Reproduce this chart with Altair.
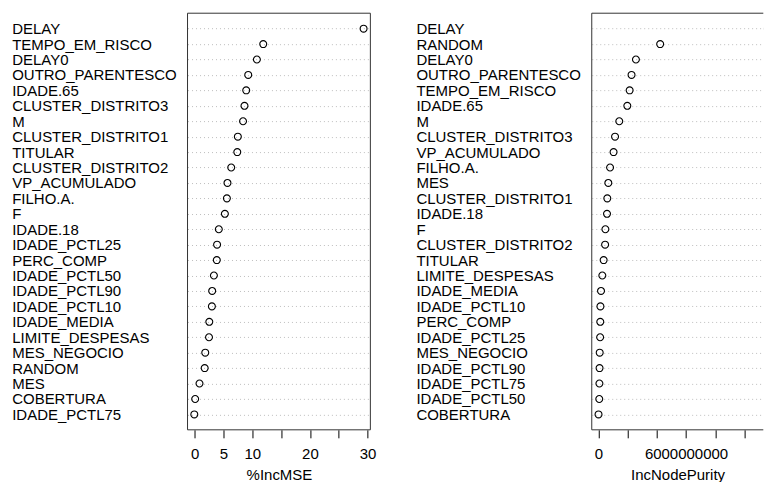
import altair as alt
import pandas as pd

# %IncMSE importance, in plotted order (top to bottom)
mse_vars = [
    "DELAY", "TEMPO_EM_RISCO", "DELAY0", "OUTRO_PARENTESCO", "IDADE.65",
    "CLUSTER_DISTRITO3", "M", "CLUSTER_DISTRITO1", "TITULAR", "CLUSTER_DISTRITO2",
    "VP_ACUMULADO", "FILHO.A.", "F", "IDADE.18", "IDADE_PCTL25", "PERC_COMP",
    "IDADE_PCTL50", "IDADE_PCTL90", "IDADE_PCTL10", "IDADE_MEDIA",
    "LIMITE_DESPESAS", "MES_NEGOCIO", "RANDOM", "MES", "COBERTURA", "IDADE_PCTL75",
]
mse_vals = [
    29.3, 11.9, 10.8, 9.3, 8.95, 8.65, 8.4, 7.5, 7.4, 6.35, 5.7, 5.6, 5.25,
    4.2, 3.9, 3.85, 3.35, 3.05, 3.0, 2.55, 2.5, 1.85, 1.75, 0.85, 0.1, -0.05,
]
mse_ticks = [0, 5, 10, 15, 20, 25, 30]
mse_labelled = [0, 5, 10, 20, 30]

# IncNodePurity importance, in plotted order (top to bottom)
purity_vars = [
    "DELAY", "RANDOM", "DELAY0", "OUTRO_PARENTESCO", "TEMPO_EM_RISCO", "IDADE.65",
    "M", "CLUSTER_DISTRITO3", "VP_ACUMULADO", "FILHO.A.", "MES", "CLUSTER_DISTRITO1",
    "IDADE.18", "F", "CLUSTER_DISTRITO2", "TITULAR", "LIMITE_DESPESAS", "IDADE_MEDIA",
    "IDADE_PCTL10", "PERC_COMP", "IDADE_PCTL25", "MES_NEGOCIO", "IDADE_PCTL90",
    "IDADE_PCTL75", "IDADE_PCTL50", "COBERTURA",
]
purity_vals = [
    11.6e9, 4.23e9, 2.57e9, 2.27e9, 2.14e9, 1.98e9, 1.43e9, 1.14e9, 1.04e9,
    0.80e9, 0.68e9, 0.61e9, 0.59e9, 0.48e9, 0.46e9, 0.36e9, 0.27e9, 0.18e9,
    0.14e9, 0.13e9, 0.12e9, 0.09e9, 0.08e9, 0.07e9, 0.06e9, 0.01e9,
]
purity_ticks = [0, 2e9, 4e9, 6e9, 8e9, 10e9]
purity_labelled = [0, 6e9]

FONT = "Liberation Sans"
PANEL_W = 183
PANEL_H = 417
RIGHT_VISIBLE_W = 171.7
LABEL_PAD = 176


def extended(vals, frac=0.04):
    lo, hi = min(vals), max(vals)
    r = hi - lo
    return lo - frac * r, hi + frac * r


def label_expr(labelled):
    cond = " || ".join(f"datum.value == {int(v)}" for v in labelled)
    return f"({cond}) ? format(datum.value, 'd') : ''"


def frame(width, height, right=True):
    sides = [
        dict(x=alt.value(0), x2=alt.value(width), y=alt.value(0)),
        dict(x=alt.value(0), x2=alt.value(width), y=alt.value(height)),
        dict(x=alt.value(0), y=alt.value(0), y2=alt.value(height)),
    ]
    if right:
        sides.append(dict(x=alt.value(width), y=alt.value(0), y2=alt.value(height)))
    return [alt.Chart().mark_rule(color="#333333", strokeWidth=1).encode(**s) for s in sides]


def panel(names, vals, ticks, labelled, title, domain, width, clip):
    df = pd.DataFrame({"var": names, "val": vals})
    x = alt.X(
        "val:Q",
        title=title,
        scale=alt.Scale(domain=list(domain), nice=False, zero=False),
        axis=alt.Axis(
            values=ticks,
            labelExpr=label_expr(labelled),
            grid=False,
            domain=False,
            ticks=True,
            tickSize=8,
            tickColor="#000000",
            labelPadding=9,
            labelFontSize=15,
            labelFont=FONT,
            labelColor="#000000",
            labelFlush=False,
            labelOverlap=False,
            titleFontSize=15,
            titleFont=FONT,
            titleFontWeight="normal",
            titleColor="#000000",
            titlePadding=6,
        ),
    )
    y = alt.Y(
        "var:N",
        sort=names,
        title=None,
        scale=alt.Scale(type="point", padding=1),
        axis=alt.Axis(
            ticks=False,
            tickSize=0,
            domain=False,
            grid=True,
            gridColor="#bebebe",
            gridDash=[1, 3],
            gridWidth=1,
            labelAlign="left",
            labelBaseline="middle",
            labelPadding=LABEL_PAD,
            labelFontSize=15,
            labelFont=FONT,
            labelColor="#000000",
            labelLimit=400,
        ),
    )
    pts = alt.Chart(df).mark_point(
        shape="circle", filled=False, color="#000000", size=48, strokeWidth=1.1, opacity=1, clip=clip
    ).encode(x=x, y=y)
    return alt.layer(pts, *frame(width, PANEL_H, right=not clip)).properties(
        width=width, height=PANEL_H
    )


mse_domain = extended(mse_vals)
lo, hi = extended(purity_vals)
purity_domain = (lo, lo + (hi - lo) * RIGHT_VISIBLE_W / PANEL_W)

left = panel(mse_vars, mse_vals, mse_ticks, mse_labelled, "%IncMSE", mse_domain, PANEL_W, False)
right = panel(purity_vars, purity_vals, purity_ticks, purity_labelled, "IncNodePurity",
              purity_domain, RIGHT_VISIBLE_W, True)

chart = (
    alt.hconcat(left, right, spacing=221.6, bounds="flush")
    .resolve_scale(x="independent", y="independent")
    .properties(padding={"left": 11.7, "top": 12, "right": 0, "bottom": 0}, background="white")
    .configure_view(stroke=None)
)

chart.save("out.html", embed_options={"renderer": "svg", "actions": False})
